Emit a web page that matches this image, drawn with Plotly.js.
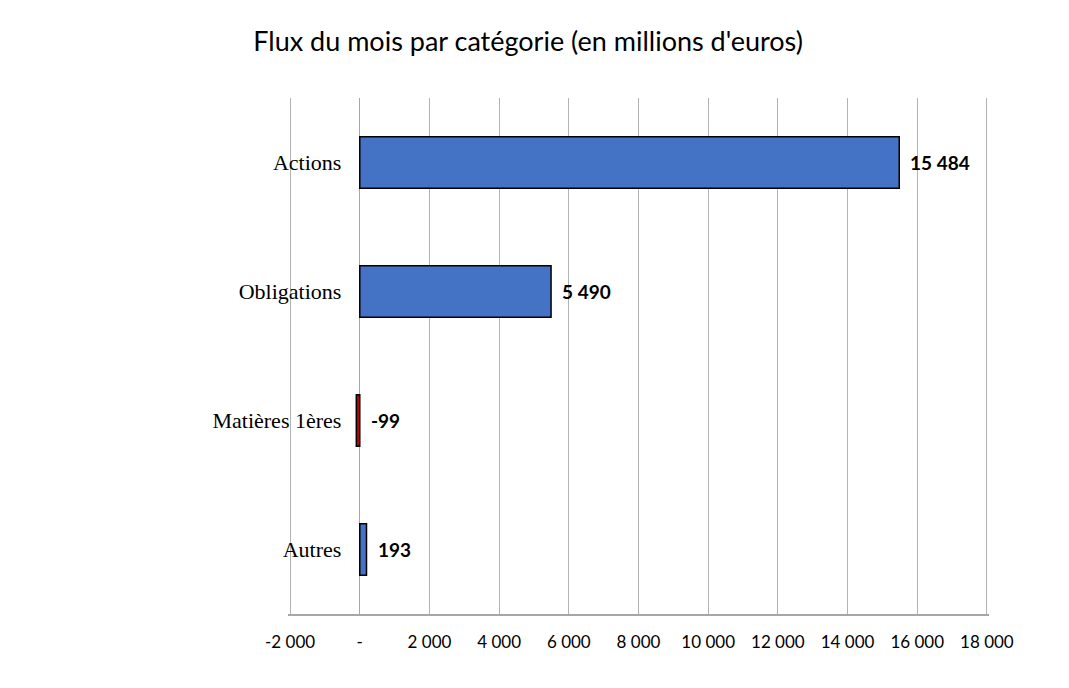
<!DOCTYPE html>
<html>
<head>
<meta charset="utf-8">
<script src="https://cdn.plot.ly/plotly-3.0.1.min.js"></script>
<style>html,body{margin:0;padding:0;background:#fff;}#chart{width:1069px;height:688px;}</style>
</head>
<body>
<div id="chart"></div>
<script>
const categories = ["Actions", "Obligations", "Matières 1ères", "Autres"];
const values = [15484, 5490, -99, 193];
const labels = ["15 484", "5 490", "-99", "193"];
const tickVals = [-2000, 0, 2000, 4000, 6000, 8000, 10000, 12000, 14000, 16000, 18000];
const tickText = ["-2 000", "-", "2 000", "4 000", "6 000", "8 000", "10 000", "12 000", "14 000", "16 000", "18 000"];

const xMin = -2000, xMax = 18000;
const pad = 60;
const barColors = values.map(v => v < 0 ? "#C00000" : "#4472C4");

const traces = [
  {
    type: "bar",
    orientation: "h",
    x: values,
    y: categories,
    width: 0.4,
    marker: {color: barColors, line: {color: "#000000", width: 1.5}},
    hoverinfo: "none"
  }
];

const annotations = categories.map((c, i) => ({
  x: Math.max(values[i], 0),
  y: c,
  xref: "x", yref: "y",
  text: labels[i],
  showarrow: false,
  xanchor: "left",
  yanchor: "middle",
  xshift: values[i] < 0 ? 9 : 9,
  yshift: 0,
  font: {family: "Lato, 'Open Sans', sans-serif", size: 19, color: "#000000", weight: "bold"}
}));

const layout = {
  width: 1069,
  height: 688,
  margin: {l: 288, r: 80, t: 98, b: 74},
  paper_bgcolor: "#ffffff",
  plot_bgcolor: "#ffffff",
  showlegend: false,
  annotations: annotations,
  title: {
    text: "Flux du mois par catégorie (en millions d'euros)",
    x: 0.494, xanchor: "center",
    y: 0.94, yanchor: "middle",
    font: {family: "Lato, 'Open Sans', sans-serif", size: 27, color: "#000000"}
  },
  xaxis: {
    range: [xMin - pad, xMax + pad],
    tickvals: tickVals,
    ticktext: tickText,
    showgrid: true,
    gridcolor: "#b3b3b3",
    gridwidth: 1,
    zeroline: true,
    zerolinecolor: "#a6a6a6",
    zerolinewidth: 1,
    showline: true,
    linecolor: "#a6a6a6",
    linewidth: 1.5,
    mirror: false,
    ticks: "outside",
    ticklen: 12,
    tickcolor: "rgba(0,0,0,0)",
    tickfont: {family: "Lato, 'Open Sans', sans-serif", size: 17, color: "#000000"},
    fixedrange: true
  },
  yaxis: {
    type: "category",
    autorange: "reversed",
    anchor: "free",
    position: (0 - (xMin - pad)) / (xMax - xMin + 2 * pad),
    showgrid: false,
    zeroline: false,
    showline: false,
    ticks: "outside",
    ticklen: 14,
    tickcolor: "rgba(0,0,0,0)",
    tickfont: {family: "'Liberation Serif', 'DejaVu Serif', serif", size: 22, color: "#000000"},
    fixedrange: true
  }
};

Plotly.newPlot("chart", traces, layout, {displayModeBar: false, staticPlot: true});
</script>
</body>
</html>
